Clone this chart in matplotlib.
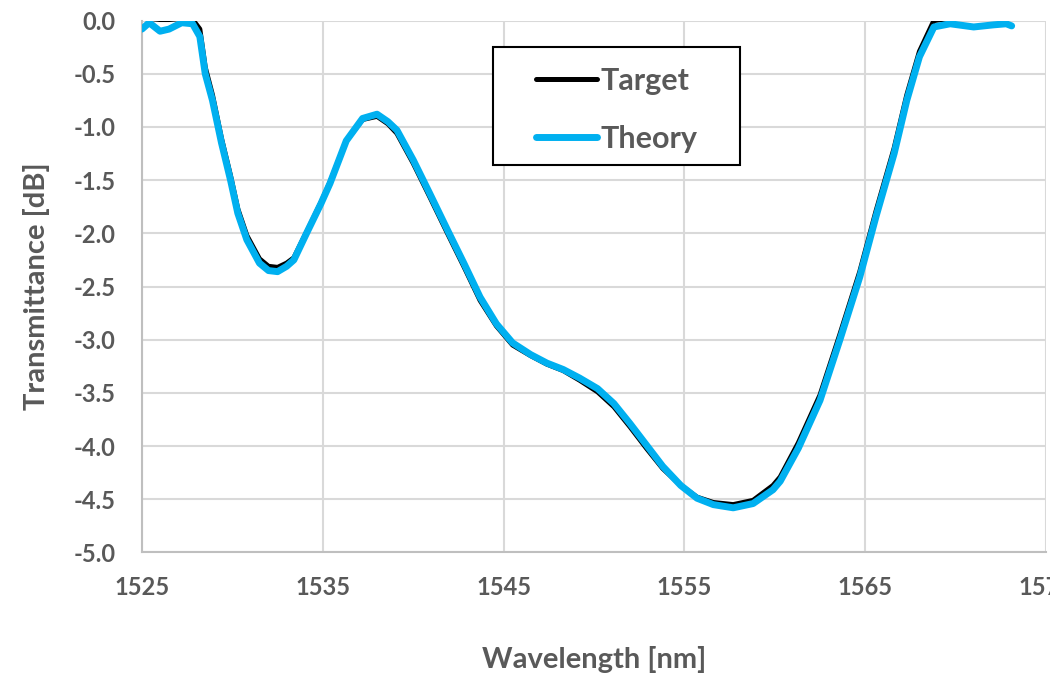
import matplotlib
matplotlib.use("Agg")
import matplotlib.pyplot as plt
from matplotlib.patches import Rectangle

plt.rcParams['font.family'] = ['Lato', 'DejaVu Sans']

# wavelength samples [nm]
wavelength = [1525.0, 1525.4, 1526.0, 1526.5, 1527.2, 1527.8, 1528.2, 1528.5, 1528.9, 1529.4,
              1529.9, 1530.3, 1530.8, 1531.5, 1532.0, 1532.5, 1533.0, 1533.4, 1534.1,
              1534.9, 1535.4, 1536.3, 1537.2, 1538.0, 1538.6, 1539.1,
              1540.0, 1540.9, 1541.9, 1542.8, 1543.7, 1544.6, 1545.5,
              1546.5, 1547.4, 1548.3, 1549.2, 1550.2, 1551.1, 1552.0, 1552.9,
              1553.8, 1554.8, 1555.7, 1556.6, 1557.7, 1558.8, 1559.9, 1560.3, 1561.3,
              1562.5, 1563.6, 1564.7, 1565.6, 1566.6, 1567.3, 1568.0, 1568.8,
              1569.7, 1571.0, 1572.1, 1572.8, 1573.1]

# measured / target transmittance [dB]
target = [0.02, 0.02, 0.01, 0.01, 0.02, 0.01, -0.08, -0.44, -0.70, -1.11,
          -1.46, -1.77, -2.02, -2.24, -2.31, -2.32, -2.28, -2.23, -1.99,
          -1.71, -1.52, -1.13, -0.93, -0.90, -0.97, -1.06,
          -1.34, -1.65, -2.00, -2.31, -2.63, -2.87, -3.05,
          -3.15, -3.23, -3.29, -3.38, -3.49, -3.63, -3.82, -4.02,
          -4.21, -4.37, -4.48, -4.53, -4.55, -4.51, -4.37, -4.29, -3.97,
          -3.52, -2.95, -2.36, -1.79, -1.20, -0.70, -0.29, 0.0,
          0.02, 0.02, 0.02, 0.02, 0.02]

# theoretical transmittance [dB]
theory = [-0.08, -0.02, -0.10, -0.08, -0.02, -0.03, -0.15, -0.50, -0.75, -1.15,
          -1.50, -1.81, -2.06, -2.28, -2.35, -2.36, -2.31, -2.25, -2.00,
          -1.72, -1.53, -1.13, -0.92, -0.88, -0.95, -1.03,
          -1.31, -1.62, -1.97, -2.28, -2.60, -2.85, -3.03,
          -3.14, -3.22, -3.28, -3.36, -3.46, -3.60, -3.79, -3.99,
          -4.19, -4.37, -4.49, -4.55, -4.58, -4.54, -4.41, -4.33, -4.02,
          -3.57, -3.00, -2.41, -1.84, -1.25, -0.75, -0.34, -0.06,
          -0.03, -0.06, -0.04, -0.03, -0.05]

x_ticks = [1525, 1535, 1545, 1555, 1565, 1575]
y_ticks = [0.0, -0.5, -1.0, -1.5, -2.0, -2.5, -3.0, -3.5, -4.0, -4.5, -5.0]

text_color = '#595959'

fig = plt.figure(figsize=(10.5, 6.75), dpi=100)
ax = fig.add_axes([0.1352, 0.1815, 0.861, 0.788])

ax.plot(wavelength, target, color='black', lw=3.6, label='Target', zorder=3,
        solid_joinstyle='round', solid_capstyle='round')
ax.plot(wavelength, theory, color='#00B0F0', lw=5.0, label='Theory', zorder=4,
        solid_joinstyle='round', solid_capstyle='round')

ax.set_xlim(1525, 1575)
ax.set_ylim(-5.0, 0.0)
ax.set_xticks(x_ticks)
ax.set_yticks(y_ticks)
ax.set_yticklabels([f'{v:.1f}' for v in y_ticks])
ax.tick_params(axis='both', length=0, labelsize=17, labelcolor=text_color)
ax.tick_params(axis='x', pad=17)
ax.tick_params(axis='y', pad=19)
for lab in ax.get_xticklabels() + ax.get_yticklabels():
    lab.set_fontweight('bold')

ax.grid(True, color='#D9D9D9', lw=1.5)
ax.set_axisbelow(True)
for side in ['top', 'right']:
    ax.spines[side].set_visible(False)
for side in ['left', 'bottom']:
    ax.spines[side].set_color('#BFBFBF')
    ax.spines[side].set_linewidth(1.5)

ax.set_xlabel('Wavelength [nm]', fontsize=21, fontweight='bold', color=text_color, labelpad=34)
ax.set_ylabel('Transmittance [dB]', fontsize=21, fontweight='bold', color=text_color, labelpad=17)

# legend box drawn separately to get Excel-like padding
box = Rectangle((0.388, 0.728), 0.2735, 0.222, transform=ax.transAxes,
                facecolor='white', edgecolor='black', lw=1.5, zorder=5)
ax.add_patch(box)
leg = ax.legend(loc='upper left', bbox_to_anchor=(0.436, 0.913), borderaxespad=0,
                frameon=False, borderpad=0,
                prop={'size': 22, 'weight': 'bold'}, handlelength=2.0,
                handletextpad=0.1, labelspacing=0.98)
leg.set_zorder(6)
for t in leg.get_texts():
    t.set_color(text_color)

fig.savefig('out.png', dpi=100)
